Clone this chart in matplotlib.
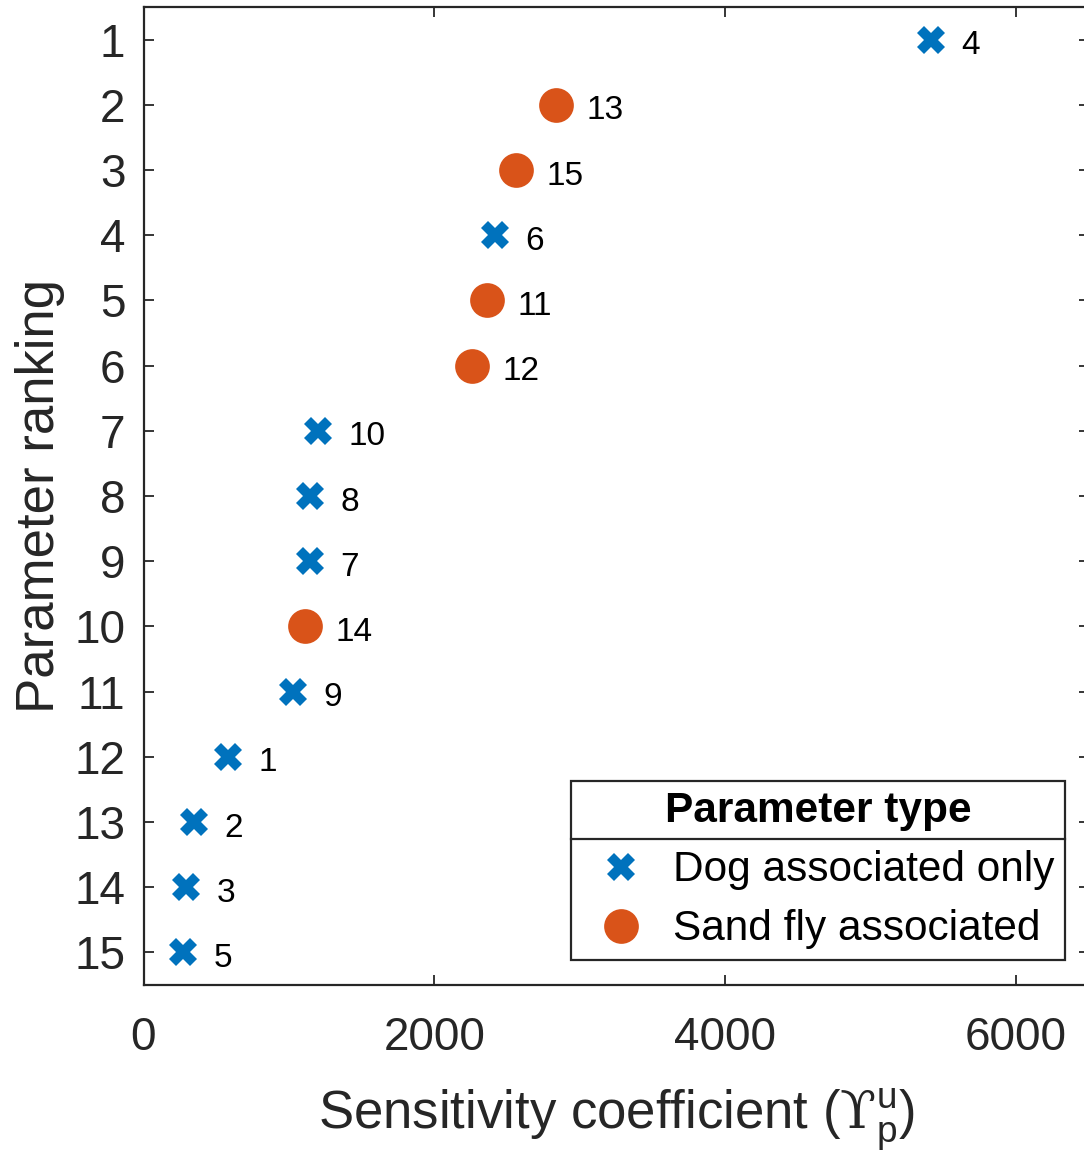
import matplotlib
matplotlib.use("Agg")
import matplotlib.pyplot as plt
from matplotlib.lines import Line2D
import numpy as np

# ---- data ----
rank = list(range(1, 16))
param_id = [4, 13, 15, 6, 11, 12, 10, 8, 7, 14, 9, 1, 2, 3, 5]
sensitivity = [5415, 2835, 2560, 2418, 2363, 2259, 1199, 1146, 1146, 1112, 1029, 582, 348, 293, 272]
ptype = ["dog", "sand", "sand", "dog", "sand", "sand", "dog", "dog", "dog", "sand",
         "dog", "dog", "dog", "dog", "dog"]
xticks = [0, 2000, 4000, 6000]
type_labels = {"dog": "Dog associated only", "sand": "Sand fly associated"}

plt.rcParams['font.family'] = ['Liberation Sans', 'DejaVu Sans']
plt.rcParams['mathtext.fontset'] = 'custom'
plt.rcParams['mathtext.rm'] = 'Liberation Sans'
plt.rcParams['mathtext.it'] = 'Liberation Sans'
plt.rcParams['mathtext.cal'] = 'DejaVu Serif'

W, H = 1084, 1159
fig = plt.figure(figsize=(W / 100, H / 100), dpi=100)
ax = fig.add_axes([143.5 / W, (H - 985) / H, (1088.8 - 143.5) / W, (985 - 7) / H])

BLUE = '#0072BD'
ORANGE = '#D95319'
DARK = '#262626'

r = np.array(rank)
s = np.array(sensitivity)
t = np.array(ptype)

dog = t == "dog"
sand = t == "sand"
ax.plot(s[dog], r[dog], linestyle='none', marker='X', markersize=20,
        color=BLUE, markeredgewidth=0, label=type_labels["dog"])
ax.plot(s[sand], r[sand], linestyle='none', marker='o', markersize=25,
        color=ORANGE, markeredgewidth=0, label=type_labels["sand"])

for xv, yv, lab in zip(sensitivity, rank, param_id):
    ax.annotate(str(lab), (xv, yv), xytext=(22, -10.5), textcoords='offset points',
                ha='left', va='baseline', fontsize=24, color='black')

ax.set_xlim(0, 6500)
ax.set_ylim(15.5, 0.5)
ax.set_xticks(xticks)
ax.set_xticklabels([str(v) for v in xticks])
ax.set_yticks(rank)
ax.set_yticklabels([str(v) for v in rank])

for sp in ax.spines.values():
    sp.set_linewidth(1.6)
    sp.set_color(DARK)
ax.tick_params(direction='in', length=7.5, width=1.3, colors=DARK,
               labelsize=33, top=True, right=True, labelcolor=DARK)
ax.tick_params(axis='y', pad=13)
ax.tick_params(axis='x', pad=22)

ax.set_ylabel('Parameter ranking', fontsize=38, color=DARK, labelpad=7)
ax.set_xlabel('Sensitivity coefficient ($\\mathcal{ϒ}^{\\rm u}_{\\rm p}$)', fontsize=38,
              color=DARK, labelpad=20)

leg = ax.legend(title='Parameter type', loc='lower right',
                bbox_to_anchor=(1065 / W, (H - 960) / H), bbox_transform=fig.transFigure,
                borderaxespad=0, fontsize=30.5, title_fontsize=30.5, frameon=True,
                fancybox=False, edgecolor=DARK, framealpha=1,
                handlelength=1.85, handletextpad=0.3, borderpad=0.25,
                labelspacing=0.45, markerscale=1.0)
leg.get_title().set_fontweight('bold')
leg.get_frame().set_linewidth(1.6)

fig.canvas.draw()
renderer = fig.canvas.get_renderer()
fb = leg.get_frame().get_window_extent(renderer)
tb = leg.get_title().get_window_extent(renderer)
eb = leg.get_texts()[0].get_window_extent(renderer)
tc = 0.5 * (tb.y0 + tb.y1)
ec = 0.5 * (eb.y0 + eb.y1)
ysep = tc - 0.47 * (tc - ec)
inv = fig.transFigure.inverted()
(x0f, ysf) = inv.transform((fb.x0, ysep))
(x1f, _) = inv.transform((fb.x1, ysep))
fig.add_artist(Line2D([x0f, x1f], [ysf, ysf], transform=fig.transFigure,
                      color=DARK, linewidth=1.6, zorder=10))

fig.savefig('out.png', dpi=100)
